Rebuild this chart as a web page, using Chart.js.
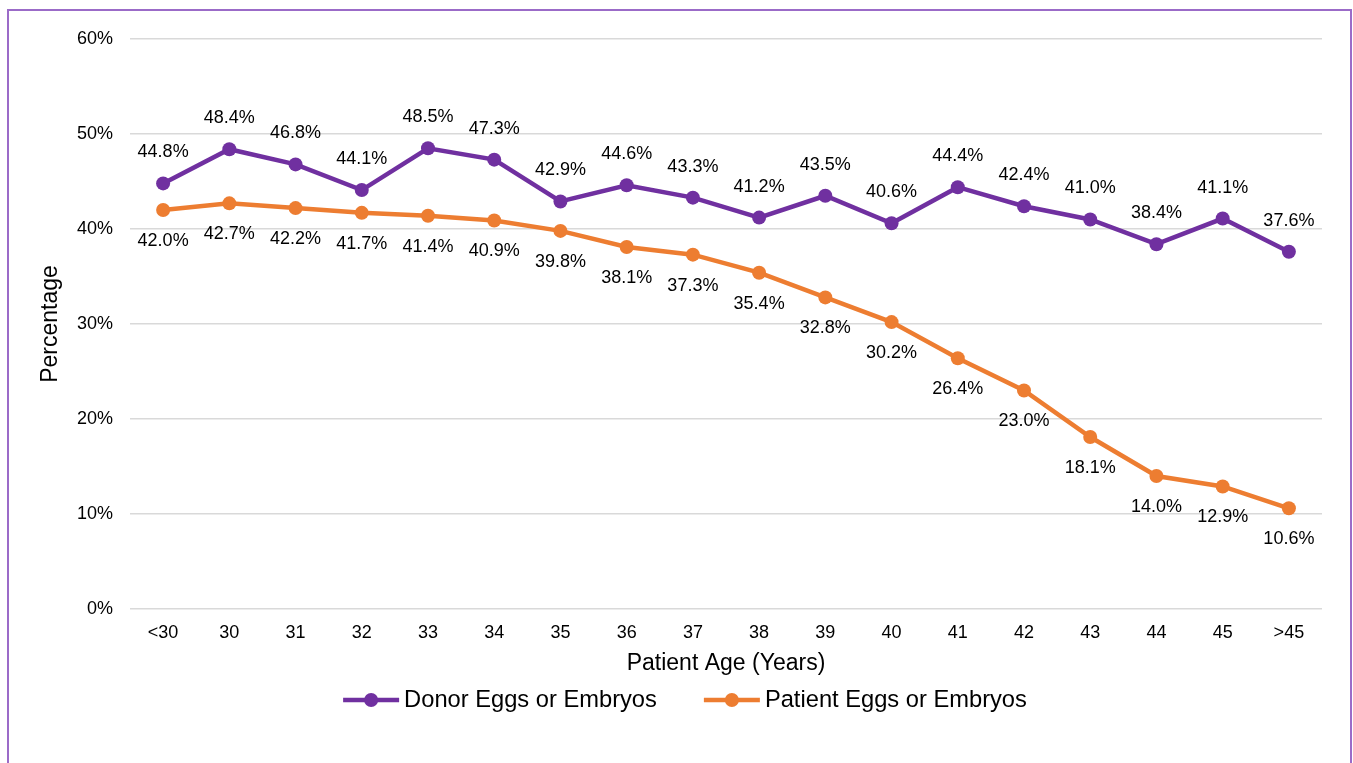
<!DOCTYPE html>
<html>
<head>
<meta charset="utf-8">
<script src="https://cdn.jsdelivr.net/npm/chart.js@4/dist/chart.umd.min.js"></script>
<style>
html,body{margin:0;padding:0;background:#fff;}
#wrap{position:relative;width:1353px;height:763px;}
</style>
</head>
<body>
<div id="wrap"><canvas id="c" width="1353" height="763"></canvas></div>
<script>
const categories = ['<30','30','31','32','33','34','35','36','37','38','39','40','41','42','43','44','45','>45'];
const donorValues = [44.8,48.4,46.8,44.1,48.5,47.3,42.9,44.6,43.3,41.2,43.5,40.6,44.4,42.4,41.0,38.4,41.1,37.6];
const patientValues = [42.0,42.7,42.2,41.7,41.4,40.9,39.8,38.1,37.3,35.4,32.8,30.2,26.4,23.0,18.1,14.0,12.9,10.6];
const yTicks = [0,10,20,30,40,50,60];
const seriesNames = ['Donor Eggs or Embryos','Patient Eggs or Embryos'];
const seriesColors = ['#7030A0','#ED7D31'];
const labelPositions = ['above','below'];

const FONT = '"Liberation Sans", Arial, sans-serif';

const borderPlugin = {
  id: 'frame',
  beforeDraw(chart) {
    const ctx = chart.ctx;
    ctx.save();
    ctx.strokeStyle = '#9B6BC8';
    ctx.lineWidth = 2;
    ctx.strokeRect(8, 10, 1343, 800);
    ctx.restore();
  }
};

const labelPlugin = {
  id: 'datalabels',
  afterDatasetsDraw(chart) {
    const ctx = chart.ctx;
    ctx.save();
    ctx.font = '18px ' + FONT;
    ctx.fillStyle = '#000';
    ctx.textAlign = 'center';
    ctx.textBaseline = 'middle';
    chart.data.datasets.forEach((ds, i) => {
      const meta = chart.getDatasetMeta(i);
      meta.data.forEach((pt, j) => {
        const off = labelPositions[i] === 'above' ? -31 : 31;
        ctx.fillText(ds.data[j].toFixed(1) + '%', pt.x, pt.y + off);
      });
    });
    ctx.restore();
  }
};

const legendPlugin = {
  id: 'customLegend',
  afterDraw(chart) {
    const ctx = chart.ctx;
    ctx.save();
    ctx.font = '23.7px ' + FONT;
    ctx.textBaseline = 'middle';
    const lineLen = 56, textGap = 5, itemGap = 47;
    const widths = seriesNames.map(n => ctx.measureText(n).width);
    let total = 0;
    widths.forEach((w, i) => { total += lineLen + textGap + w + (i < widths.length - 1 ? itemGap : 0); });
    let x = 685 - total / 2;
    const y = 700;
    seriesNames.forEach((n, i) => {
      ctx.strokeStyle = seriesColors[i];
      ctx.fillStyle = seriesColors[i];
      ctx.lineWidth = 4.5;
      ctx.beginPath();
      ctx.moveTo(x, y);
      ctx.lineTo(x + lineLen, y);
      ctx.stroke();
      ctx.beginPath();
      ctx.arc(x + lineLen / 2, y, 7, 0, Math.PI * 2);
      ctx.fill();
      ctx.fillStyle = '#000';
      ctx.textAlign = 'left';
      ctx.fillText(n, x + lineLen + textGap, y);
      x += lineLen + textGap + widths[i] + itemGap;
    });
    ctx.restore();
  }
};

new Chart(document.getElementById('c'), {
  type: 'line',
  data: {
    labels: categories,
    datasets: [donorValues, patientValues].map((vals, i) => ({
      label: seriesNames[i],
      data: vals,
      borderColor: seriesColors[i],
      backgroundColor: seriesColors[i],
      pointBackgroundColor: seriesColors[i],
      pointBorderColor: seriesColors[i],
      borderWidth: 4.5,
      pointRadius: 7,
      pointBorderWidth: 0,
      tension: 0,
      fill: false
    }))
  },
  options: {
    responsive: false,
    animation: false,
    layout: { padding: { left: 33, right: 31, top: 39, bottom: 82 } },
    plugins: { legend: { display: false }, tooltip: { enabled: false } },
    scales: {
      x: {
        offset: true,
        grid: { display: false, drawTicks: false },
        border: { display: false },
        ticks: { color: '#000', font: { family: FONT, size: 18 }, padding: 13, maxRotation: 0, autoSkip: false },
        title: { display: true, text: 'Patient Age (Years)', color: '#000', font: { family: FONT, size: 23 }, padding: { top: 4, bottom: 4 } },
        afterFit(scale) { scale.height = 72; }
      },
      y: {
        min: 0, max: 60,
        afterBuildTicks(scale) { scale.ticks = yTicks.map(v => ({ value: v })); },
        grid: { color: '#D9D9D9', lineWidth: 1.5, drawTicks: false },
        border: { display: false },
        ticks: { color: '#000', font: { family: FONT, size: 18 }, padding: 17, callback: v => v + '%' },
        title: { display: true, text: 'Percentage', color: '#000', font: { family: FONT, size: 23 }, padding: { top: 4, bottom: 4 } },
        afterFit(scale) { scale.width = 97; }
      }
    }
  },
  plugins: [borderPlugin, labelPlugin, legendPlugin]
});
</script>
</body>
</html>
